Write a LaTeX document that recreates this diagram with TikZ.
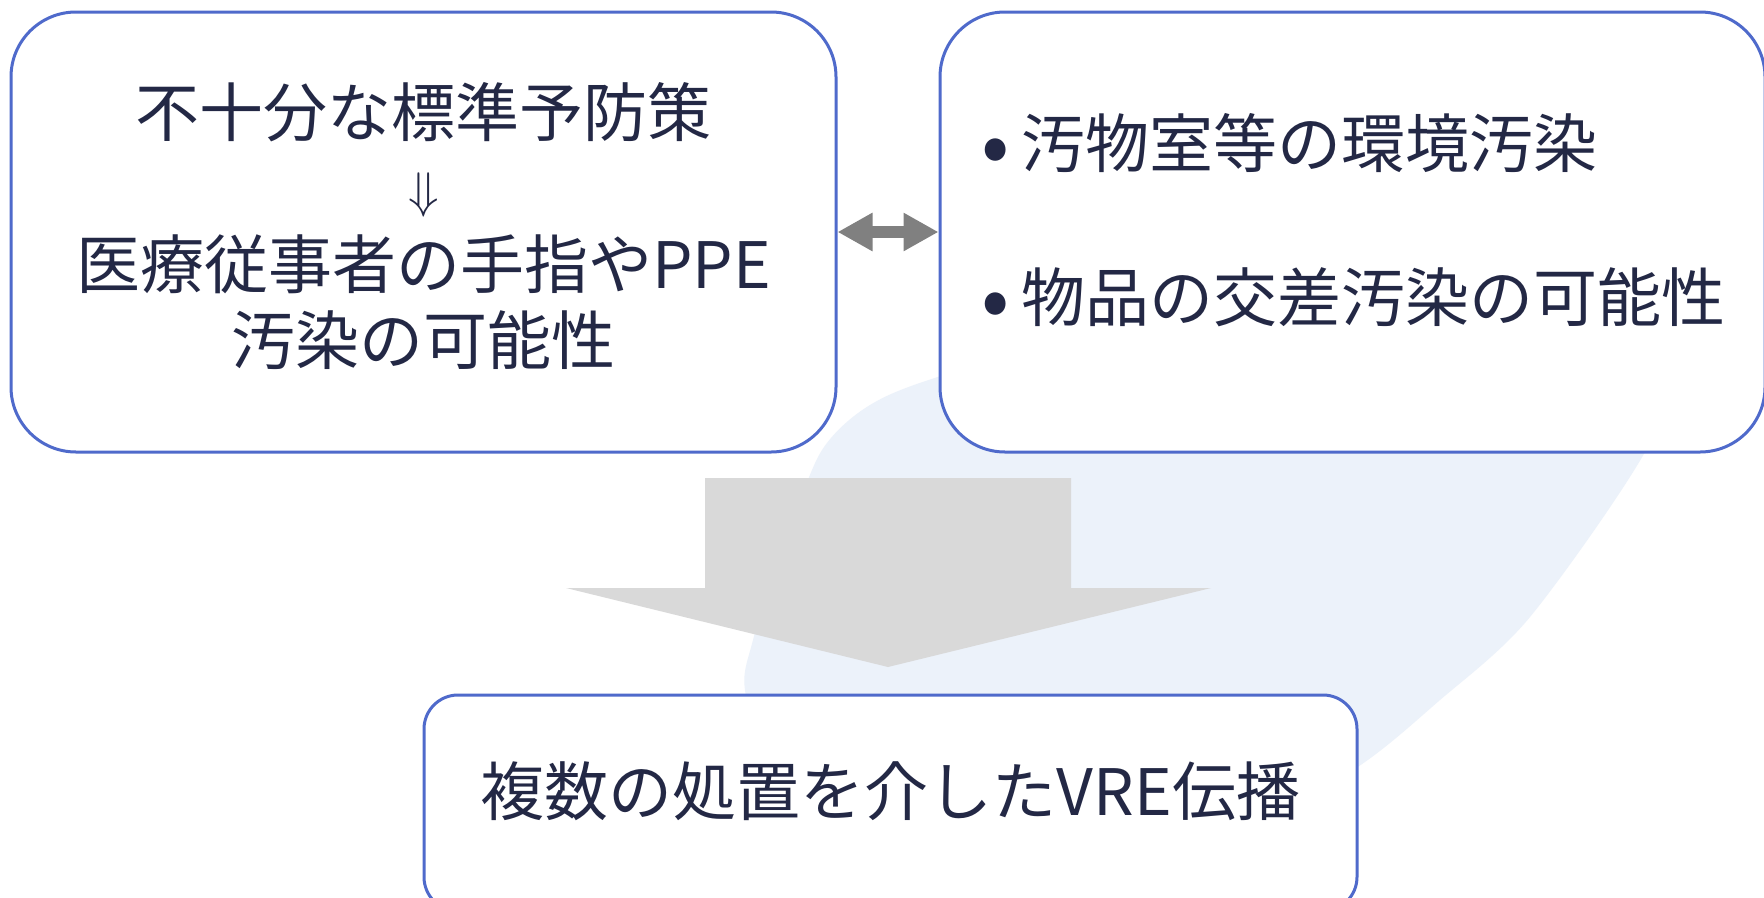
\documentclass[tikz,border=0pt]{standalone}
\usepackage{fontspec}
\setmainfont{Noto Sans CJK JP}
\usepackage{graphicx}
\usetikzlibrary{arrows.meta}
\definecolor{ink}{HTML}{232845}
\definecolor{frame}{HTML}{4F6ACB}
\definecolor{blob}{HTML}{ECF2FA}
\definecolor{bigarrow}{HTML}{D9D9D9}
\definecolor{dblgray}{HTML}{808080}
\newcommand{\bulletmark}{\raisebox{-7pt}{\scalebox{1.3}{•}}\hspace{12pt}}
\begin{document}
\begin{tikzpicture}[x=1pt,y=-1pt,
  box/.style={draw=frame, line width=3pt, fill=white, inner sep=0pt},
  txt/.style={text=ink, inner sep=0pt, font=\fontsize{64}{76}\selectfont},
  dbl/.style={dblgray, line width=12pt, {Triangle[length=35pt,width=36pt]}-{Triangle[length=35pt,width=36pt]}},
]
\useasboundingbox (0,0) rectangle (1764,897);
\fill[white] (0,0) rectangle (1764,897);
% faint background blob
\fill[blob] plot[smooth cycle] coordinates {(747,700) (753,640) (790,530) (822,450) (870,405) (950,373) (1200,300) (1500,280) (1690,330) (1645,452) (1530,617) (1440,700) (1350,772) (1200,850) (1000,885) (800,820)};
% boxes
\node[box, rounded corners=65pt, minimum width=825pt, minimum height=440pt] (L) at (423.5,232) {};
\node[box, rounded corners=65pt, minimum width=825pt, minimum height=440pt] (R) at (1352.5,232) {};
\node[box, rounded corners=34pt, minimum width=933pt, minimum height=216pt] (B) at (890.5,803) {};
% texts
\node[txt, align=center] (Ltext) at (423.5,226) {不十分な標準予防策\\\raisebox{4.5pt}{\scalebox{5}{\fontsize{10}{12}\selectfont$\Downarrow$}}\\医療従事者の手指やPPE\\汚染の可能性};
\node[txt, align=left, anchor=west, font=\fontsize{64}{154}\selectfont] (Rtext) at (981,221) {\bulletmark 汚物室等の環境汚染\\\bulletmark 物品の交差汚染の可能性};
\node[txt] (Btext) at (890.5,791) {複数の処置を介したVRE伝播};
% connectors
\draw[dbl] (L.east) -- (R.west);
\coordinate (tip) at (888,667);
\fill[bigarrow] (705,478) -- (1071,478) -- (1071,588) -- (1211,588) -- (tip) -- (566,588) -- (705,588) -- cycle;
\end{tikzpicture}
\end{document}
